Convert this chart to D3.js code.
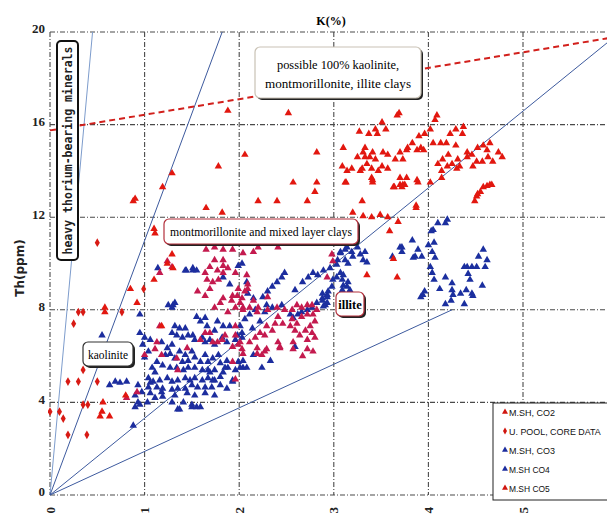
<!DOCTYPE html>
<html>
<head>
<meta charset="utf-8">
<script src="https://cdn.jsdelivr.net/npm/d3@7"></script>
<style>
  body { margin: 0; background: #fff; }
  svg { display: block; }
</style>
</head>
<body>
<svg id="chart"></svg>
<script>
// values, each point is [K (%), Th (ppm)]
const kTicks = [0, 1, 2, 3, 4, 5, 6];
const thTicks = [0, 4, 8, 12, 16, 20];
const seriesNames = ['M.SH, CO2', 'U. POOL, CORE DATA', 'M.SH, CO3', 'M.SH CO4', 'M.SH CO5'];

const uPool = [[0.00,3.6],[0.10,3.6],[0.14,3.3],[0.19,4.9],[0.30,4.9],[0.50,4.9],[0.35,5.4],[0.35,3.9],
  [0.40,3.9],[0.19,2.6],[0.39,2.6],[0.50,10.9],[0.30,7.9],[0.35,7.9],[0.25,7.4],[0.76,7.9],[0.99,8.9]];

const co2 = [[3.69,16.5],[3.67,16.4],[4.09,16.4],[4.07,16.2],[3.51,16.1],[3.27,15.7],[3.37,15.6],[3.44,15.8],
  [3.46,15.6],[3.55,15.8],[4.37,15.9],[4.36,15.6],[4.29,15.8],[4.23,15.6],[4.02,15.8],[3.96,15.6],[3.90,15.5],
  [3.83,15.2],[3.78,15.0],[3.92,15.0],[3.95,14.9],[3.88,14.9],[4.05,15.2],[4.13,15.2],[4.19,15.2],[4.29,15.1],
  [4.21,14.7],[4.65,15.2],[4.58,15.1],[4.52,15.0],[4.62,14.9],[4.63,14.6],[4.74,14.8],[4.78,14.6],[4.41,14.8],
  [4.46,14.7],[4.31,14.5],[4.41,14.6],[4.51,14.4],[4.57,14.4],[4.68,14.4],[4.47,14.2],[4.33,14.2],[4.25,14.3],
  [4.15,14.5],[4.10,14.3],[4.14,14.0],[4.20,14.2],[4.30,14.1],[4.14,13.7],[3.70,14.8],[3.65,14.5],[3.73,14.5],
  [3.77,14.9],[3.57,14.7],[3.52,14.8],[3.41,14.8],[3.33,15.0],[3.31,14.8],[3.25,14.6],[3.33,14.6],[3.38,14.6],
  [3.44,14.5],[3.35,14.3],[3.30,14.1],[3.28,14.0],[3.19,14.1],[3.14,14.0],[3.09,14.2],[3.10,15.0],[3.12,13.5],
  [3.40,14.1],[3.51,14.2],[3.47,14.0],[3.57,14.1],[3.40,13.7],[3.41,13.6],[3.70,13.7],[3.77,13.7],[3.72,13.3],
  [3.75,13.4],[3.64,13.3],[3.88,13.6],[3.89,13.5],[3.30,12.7],[3.87,12.5],
  [4.51,12.9],[4.55,13.1],[4.58,13.3],[4.62,13.35],[4.67,13.4],[4.49,12.7],[4.52,13.0],[4.65,13.4],
  [1.88,16.6],[2.52,16.5],[2.06,14.7],[2.82,14.8],[1.78,14.2],[1.29,13.9],
  [0.88,12.7],[0.90,12.8],[1.19,13.3],[1.10,11.5],[1.11,11.3],[1.29,10.4],[1.24,10.0],[1.30,9.8],[1.10,9.3],
  [0.85,8.9],[0.92,8.3],[0.58,8.1],[0.58,7.9],[1.18,7.3],[0.80,4.3],[0.56,4.0],[0.53,3.4],[0.63,3.4],[0.55,3.6],
  [2.57,13.5],[2.82,13.5],[2.80,13.1],[2.20,12.7],[2.40,12.7],[2.72,12.7],[3.13,13.5],[3.41,13.5],[3.63,13.3],
  [3.70,13.4],[3.20,12.2],[3.31,12.05],[3.40,12.0],[3.49,12.1],[3.57,12.0],[3.68,11.8],[3.59,11.4],[1.82,12.2],
  [1.65,12.4],[3.67,9.4],[3.35,9.5],[3.63,10.2],[3.73,13.4],[4.02,13.5],[3.87,12.4]];

const co3 = [[1.14,9.8],[1.44,9.7],[1.51,9.8],[1.83,9.4],[1.90,9.1],[1.30,8.2],[1.32,8.3],[0.95,7.8],[0.55,6.9],
  [1.55,7.7],[1.59,7.5],[1.64,7.65],[1.66,7.3],[1.77,7.5],[1.74,7.1],[1.83,7.3],[1.90,7.3],[1.32,7.3],[1.37,7.2],
  [1.43,7.2],[1.29,7.0],[1.34,6.9],[1.40,6.8],[1.46,6.9],[1.51,6.9],[1.53,6.7],[1.61,6.8],[1.64,6.6],[1.69,6.7],
  [1.82,6.8],[1.74,6.5],[1.87,6.6],[1.96,6.7],[2.03,6.8],[0.95,7.0],[1.00,6.8],[1.06,6.7],[0.98,6.5],[1.04,6.2],
  [1.00,5.95],[1.18,6.6],[1.24,6.35],[1.29,6.5],[1.22,6.05],[1.27,6.1],[1.32,5.9],[1.37,6.2],[1.43,6.05],
  [1.40,5.75],[1.46,5.8],[1.50,6.2],[1.53,5.95],[1.59,5.75],[1.64,6.05],[1.67,5.75],[1.72,5.9],[1.78,6.05],
  [1.80,5.7],[1.87,5.8],[1.88,5.5],[1.83,5.3],[1.74,5.4],[1.67,5.4],[1.61,5.4],[1.53,5.5],[1.46,5.5],[1.41,5.4],
  [1.34,5.5],[1.27,5.5],[1.19,5.6],[1.13,5.75],[1.08,5.5],[1.11,5.3],[1.04,5.05],[1.09,4.9],[1.16,4.95],
  [1.24,5.05],[1.29,4.9],[1.35,4.95],[1.43,5.05],[1.48,4.95],[1.53,5.05],[1.61,4.95],[1.67,5.05],[1.74,4.95],
  [1.80,4.75],[1.71,4.65],[1.64,4.65],[1.56,4.65],[1.50,4.75],[1.43,4.6],[1.35,4.6],[1.29,4.55],[1.19,4.6],
  [1.13,4.65],[1.04,4.65],[0.93,4.75],[0.97,4.45],[1.06,4.4],[1.18,4.45],[1.32,4.3],[1.45,4.4],[1.53,4.3],
  [1.64,4.4],[1.74,4.3],[1.87,4.6],[1.93,4.95],[1.96,5.4],[1.99,5.75],[0.90,4.3],[0.93,4.0],[0.90,3.8],[1.03,4.0],
  [1.11,4.2],[1.19,4.25],[1.29,4.0],[1.41,4.0],[1.50,3.8],[1.55,3.8],[1.35,3.7],[0.69,4.9],[0.63,4.75],[0.74,4.85],
  [0.81,4.9],[0.95,3.9],[0.88,3.0],[1.06,4.85],[1.37,3.7],[1.59,3.8],[1.50,3.9],
  [1.93,4.9],[2.04,5.5],[2.08,5.5],[2.24,5.5],[2.33,5.8],[2.01,5.5],[1.72,4.95],[1.80,5.1],[1.69,5.3],[1.85,5.5],
  [2.03,10.0],[1.99,9.9],[2.48,9.6],[2.45,9.4],[2.40,9.2],[2.35,9.0],[2.30,8.8],[2.25,8.55],[2.29,8.2],[2.15,8.5],
  [2.09,8.7],[2.08,9.2],[2.17,8.0],[2.11,7.8],[2.06,7.6],[2.01,7.3],[2.03,7.0],[1.98,6.9],[2.14,7.2],[2.22,7.5],
  [2.27,7.9],[2.35,8.1],[2.45,8.2],[2.54,7.8],[2.57,7.65],[2.62,7.8],[2.66,7.9],[2.72,8.0],[2.77,8.1],[2.82,8.3],
  [2.88,8.5],[2.91,8.2],[2.93,8.65],[2.59,8.85],[2.67,9.2],[2.73,9.4],[2.78,9.6],[2.83,9.5],[2.89,9.7],[2.96,9.8],
  [3.04,10.15],[3.07,10.45],[3.12,10.6],[2.59,6.4],[2.04,5.8],[2.15,6.05],
  [1.43,9.7],[1.51,9.7],[1.25,8.2],[1.29,8.1],[1.55,9.7]];

const co4 = [[4.20,11.9],[4.18,11.75],[4.10,11.75],[4.05,11.45],[4.03,11.4],[3.83,11.0],[3.72,10.7],[3.72,10.5],
  [3.89,10.6],[3.86,10.3],[3.93,10.3],[4.00,10.8],[4.06,10.9],[4.04,10.5],[4.07,10.25],[4.58,10.6],[4.53,10.3],
  [4.62,10.15],[4.60,9.85],[4.51,9.85],[4.46,9.85],[4.41,9.85],[4.38,9.85],[4.42,9.55],[4.44,9.3],[4.02,9.85],
  [4.04,9.6],[4.06,9.3],[4.18,9.4],[4.25,9.15],[4.12,8.9],[4.25,8.85],[4.26,8.65],[4.24,8.4],[4.34,8.7],
  [4.40,8.85],[4.46,8.7],[4.47,8.6],[4.57,9.05],[3.96,8.8],[3.94,8.65],[3.92,8.55],[4.18,8.25],[4.38,8.25],
  [3.70,10.7],[3.62,10.3],[3.84,10.25],
  [3.07,10.5],[3.14,10.7],[3.19,10.5],[3.25,10.7],[3.28,10.4],[3.33,10.5],[3.31,10.15],[3.35,10.05],[3.20,10.3],
  [3.12,10.15],[3.15,10.0],[3.03,9.95],[3.07,9.6],[3.03,9.4],[3.10,9.5],[2.99,9.3],[3.09,9.3],[3.14,9.0],
  [2.98,9.0],[2.94,8.8],[2.88,8.7],[2.93,8.55],[2.88,8.4],[2.89,8.15],[2.93,8.3],
  [3.15,9.2],[3.10,9.05],[3.09,8.85],[3.17,8.85]];

const co5 = [[2.09,8.9],[2.08,9.5],[2.09,9.1],[1.99,8.9],[2.01,8.3],[2.04,8.1],[2.11,8.1],[2.19,7.9],[2.30,8.0],
  [2.40,8.1],[2.41,7.7],[2.48,8.0],[2.56,8.0],[2.61,8.2],[2.66,8.1],[2.72,8.2],[2.77,8.2],[2.82,8.0],[2.66,7.7],
  [2.72,7.8],[2.78,7.8],[2.80,7.5],[2.75,7.3],[2.70,7.1],[2.77,7.0],[2.80,6.8],[2.72,6.7],[2.64,6.9],[2.59,7.1],
  [2.54,7.3],[2.61,7.4],[2.56,7.6],[2.46,7.4],[2.38,7.4],[2.35,7.1],[2.29,7.3],[2.27,6.9],[2.22,7.0],[2.17,6.8],
  [2.11,6.6],[2.19,6.35],[2.29,6.3],[2.41,6.6],[2.43,6.4],[2.57,6.6],[2.57,6.3],[2.72,6.3],[2.78,6.2],[2.67,6.0],
  [2.24,6.05],[1.96,6.9],[2.01,6.6],[2.30,8.55],[1.96,9.6],[2.20,10.7],[2.41,10.7],[2.93,9.4],[2.99,10.1],
  [2.98,10.4],
  [1.24,10.1],[1.29,9.85],[1.16,9.6],[1.64,8.6],[1.69,8.9],[1.72,9.2],[1.78,9.3],[1.77,9.7],[1.83,9.9],[1.88,9.8],
  [1.56,8.8],[1.80,8.3],[1.74,8.1],[1.83,8.5],[1.92,8.4],[1.98,8.6],[2.03,8.5],[1.96,8.1],[2.04,8.0],[1.88,7.9],
  [1.16,7.3],[1.13,6.6],[1.11,6.3],[1.00,6.05],[1.18,6.05],[1.45,6.35],[1.64,7.0],[1.72,6.6],[1.77,6.6],
  [1.85,6.9],[1.96,7.3],[1.99,6.5],[1.93,5.75],[2.03,6.3],[1.34,5.9],[1.35,5.4],[0.81,4.2],[0.92,4.45],[1.96,5.0],
  [1.65,10.6],[1.74,10.7],[1.83,10.6],[1.93,10.6],[2.04,10.45],[2.15,10.5],[1.74,10.15],[1.83,10.15],[1.69,9.85],
  [1.83,9.6],[1.64,9.6],[1.66,9.3],[2.06,8.8],[1.93,8.6],[2.15,8.4],[2.20,8.1],[2.43,6.35],[2.27,6.2],[2.19,6.1],
  [2.04,6.1],[1.93,6.4],[1.82,6.7],[1.59,6.7],[1.69,7.0]];

// Th/K ratio lines from the origin, and the upper limit of the clays
const ratioLines = [[0, 0, 0.45, 20], [0, 0, 1.82, 20], [0, 0, 6, 19.9], [0, 0, 4.25, 8]];
const clayLimit = [0, 15.75, 6, 19.8];

const width = 607, height = 517;
const svg = d3.select('#chart')
  .attr('width', width)
  .attr('height', height)
  .style('background-color', '#fff');

const x = d3.scaleLinear().domain([0, 6]).range([50, 617.6]);
const y = d3.scaleLinear().domain([0, 20]).range([495, 32]);

svg.append('clipPath').attr('id', 'plot')
  .append('rect').attr('x', 48).attr('y', 30).attr('width', width - 48).attr('height', 468);

// grid
const grid = svg.append('g').attr('stroke', '#4a4a4a').attr('stroke-width', 1.1)
  .attr('stroke-dasharray', '5,2,1,2');
grid.selectAll('line.v').data(kTicks).enter().append('line')
  .attr('class', 'v')
  .attr('x1', d => x(d)).attr('x2', d => x(d))
  .attr('y1', y(20)).attr('y2', y(0));
grid.selectAll('line.h').data(thTicks).enter().append('line')
  .attr('class', 'h')
  .attr('x1', x(0)).attr('x2', width)
  .attr('y1', d => y(d)).attr('y2', d => y(d));

// axis tick labels
svg.append('g').selectAll('text').data(thTicks).enter().append('text')
  .attr('x', 45)
  .attr('y', d => y(d))
  .attr('dy', '0.1em')
  .attr('text-anchor', 'end')
  .attr('font-family', 'Liberation Serif, serif')
  .attr('font-size', '13px')
  .attr('font-weight', 'bold')
  .attr('fill', '#222')
  .text(d => d);

svg.append('g').selectAll('text').data(kTicks.slice(0, 6)).enter().append('text')
  .attr('transform', d => `translate(${x(d)},507) rotate(-90)`)
  .attr('dy', '0.35em')
  .attr('text-anchor', 'end')
  .attr('font-family', 'Liberation Serif, serif')
  .attr('font-size', '13px')
  .attr('font-weight', 'bold')
  .attr('fill', '#222')
  .text(d => d);

svg.append('text')
  .attr('x', 331).attr('y', 25)
  .attr('text-anchor', 'middle')
  .attr('font-family', 'Liberation Serif, serif')
  .attr('font-size', '12px')
  .attr('font-weight', 'bold')
  .text('K(%)');

svg.append('text')
  .attr('transform', 'translate(24,268) rotate(-90)')
  .attr('text-anchor', 'middle')
  .attr('font-family', 'DejaVu Sans, sans-serif')
  .attr('font-size', '12px')
  .attr('font-weight', 'bold')
  .attr('fill', '#222')
  .text('Th(ppm)');

// reference lines
const plot = svg.append('g').attr('clip-path', 'url(#plot)');
plot.selectAll('line.ratio').data(ratioLines).enter().append('line')
  .attr('class', 'ratio')
  .attr('x1', d => x(d[0])).attr('y1', d => y(d[1]))
  .attr('x2', d => x(d[2])).attr('y2', d => y(d[3]))
  .attr('stroke', (d, i) => i === 0 ? '#7d9ccc' : '#3d5a9e')
  .attr('stroke-width', 1);

plot.append('line')
  .attr('x1', x(clayLimit[0])).attr('y1', y(clayLimit[1]))
  .attr('x2', x(clayLimit[2])).attr('y2', y(clayLimit[3]))
  .attr('stroke', '#d2201c')
  .attr('stroke-width', 2)
  .attr('stroke-dasharray', '6,4');

// points
const tri = d3.symbol().type(d3.symbolTriangle).size(24);
const dia = d3.symbol().type(d3.symbolDiamond).size(22);

function drawSeries(data, shape, color) {
  plot.append('g').selectAll('path').data(data).enter().append('path')
    .attr('d', shape)
    .attr('transform', d => `translate(${x(d[0])},${y(d[1])})`)
    .attr('fill', color);
}
drawSeries(co3, tri, '#1c2d9e');
drawSeries(co4, tri, '#1b2f9f');
drawSeries(co5, tri, '#c41a4e');
drawSeries(co2, tri, '#e2170f');
drawSeries(uPool, dia, '#d81a14');

// annotation boxes
function labelBox(bx, by, bw, bh, border, lines, opts) {
  const g = svg.append('g');
  g.append('rect')
    .attr('x', bx + 2).attr('y', by + 2).attr('width', bw).attr('height', bh)
    .attr('rx', 5).attr('fill', '#222');
  g.append('rect')
    .attr('x', bx).attr('y', by).attr('width', bw).attr('height', bh)
    .attr('rx', 5).attr('fill', '#fff')
    .attr('stroke', border).attr('stroke-width', 1.2);
  lines.forEach((t, i) => {
    g.append('text')
      .attr('x', bx + bw / 2)
      .attr('y', by + opts.first + i * opts.step)
      .attr('text-anchor', 'middle')
      .attr('font-family', 'Liberation Serif, serif')
      .attr('font-size', opts.size)
      .attr('font-weight', opts.weight || 'normal')
      .attr('textLength', opts.lengths ? opts.lengths[i] : null)
      .attr('lengthAdjust', 'spacingAndGlyphs')
      .text(t);
  });
}

labelBox(255, 47, 166, 51, '#c9c2b5', ['possible 100% kaolinite,', 'montmorillonite, illite clays'],
  { first: 22, step: 19, size: '12.5px', lengths: [122, 146] });
labelBox(164, 219, 194, 25, '#b3303c', ['montmorillonite and mixed layer clays'],
  { first: 17, step: 0, size: '12.5px', lengths: [182] });
labelBox(336, 292, 28, 24, '#b3303c', ['illite'],
  { first: 17, step: 0, size: '12.5px', weight: 'bold' });
labelBox(83, 342, 50, 24, '#333', ['kaolinite'],
  { first: 17, step: 0, size: '12.5px', lengths: [40] });

// vertical box
const hv = svg.append('g');
hv.append('rect')
  .attr('x', 57).attr('y', 41).attr('width', 21).attr('height', 219)
  .attr('rx', 4).attr('fill', '#fff')
  .attr('stroke', '#111').attr('stroke-width', 2);
hv.append('text')
  .attr('transform', 'translate(67.5,150.5) rotate(-90)')
  .attr('dy', '0.35em')
  .attr('text-anchor', 'middle')
  .attr('font-family', 'DejaVu Sans Mono, monospace')
  .attr('font-size', '12.5px')
  .attr('font-weight', 'bold')
  .attr('fill', '#222')
  .attr('textLength', 208)
  .attr('lengthAdjust', 'spacingAndGlyphs')
  .text('heavy thorium-bearing minerals');

// legend
const legend = svg.append('g');
legend.append('rect')
  .attr('x', 493).attr('y', 403).attr('width', 120).attr('height', 97)
  .attr('fill', '#fff').attr('stroke', '#222').attr('stroke-width', 1);
const legendShapes = [tri, dia, tri, tri, tri];
const legendColors = ['#d0150f', '#d0150f', '#1c2d9e', '#1c2d9e', '#d0150f'];
seriesNames.forEach((name, i) => {
  const ly = 412 + i * 19;
  legend.append('path')
    .attr('d', legendShapes[i])
    .attr('transform', `translate(505,${ly}) scale(0.8)`)
    .attr('fill', legendColors[i]);
  legend.append('text')
    .attr('x', 509).attr('y', ly + 4)
    .attr('font-family', 'Liberation Sans, Arial, sans-serif')
    .attr('font-size', '9px')
    .attr('fill', '#111')
    .attr('textLength', name.length * 5.1)
    .attr('lengthAdjust', 'spacingAndGlyphs')
    .text(name);
});
</script>
</body>
</html>
